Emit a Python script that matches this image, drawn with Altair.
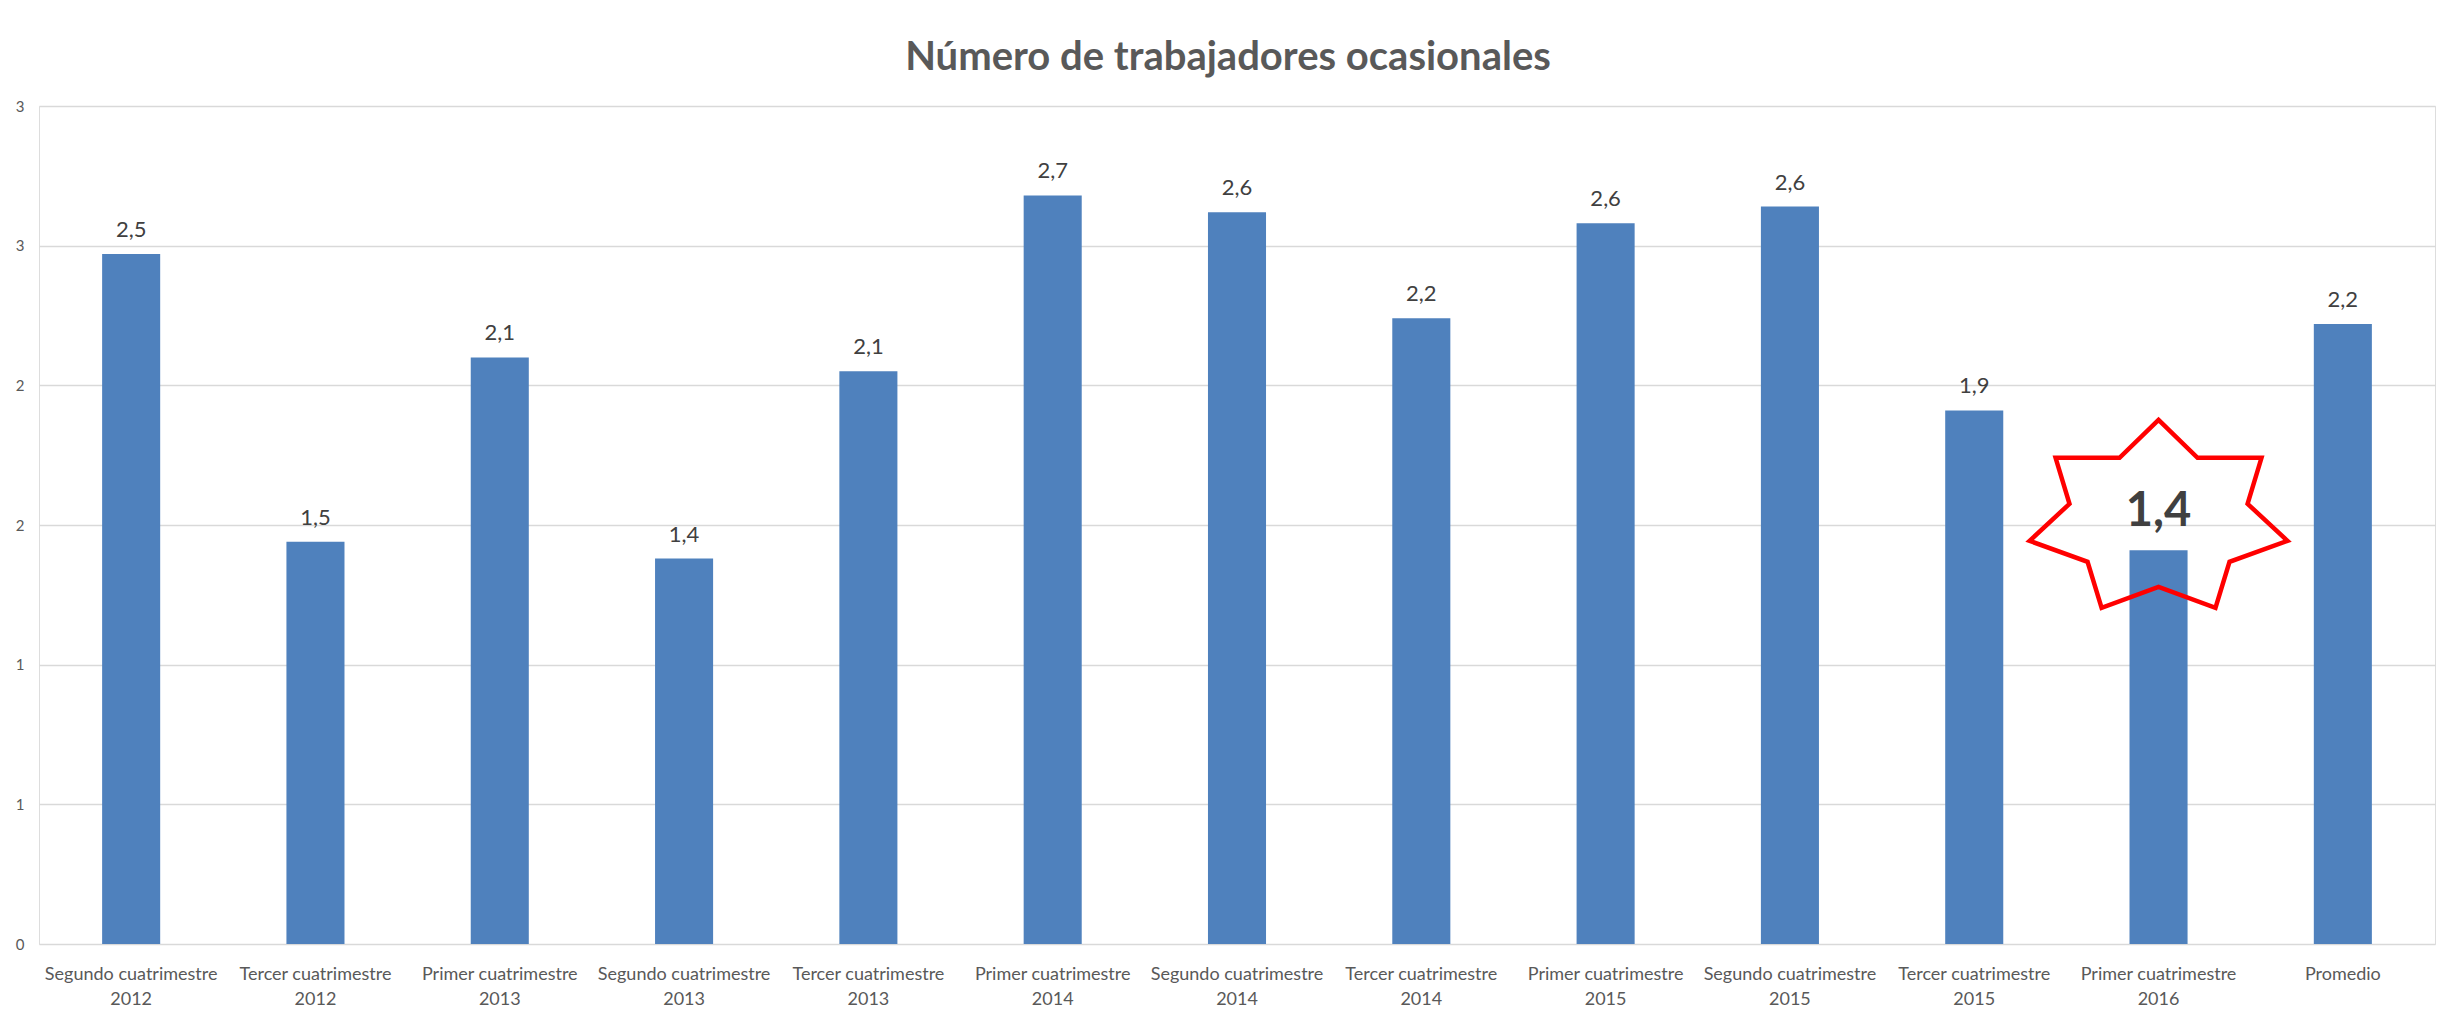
import altair as alt
import pandas as pd

categories = [
    "Segundo cuatrimestre 2012", "Tercer cuatrimestre 2012", "Primer cuatrimestre 2013",
    "Segundo cuatrimestre 2013", "Tercer cuatrimestre 2013", "Primer cuatrimestre 2014",
    "Segundo cuatrimestre 2014", "Tercer cuatrimestre 2014", "Primer cuatrimestre 2015",
    "Segundo cuatrimestre 2015", "Tercer cuatrimestre 2015", "Primer cuatrimestre 2016",
    "Promedio",
]
values = [2.47, 1.44, 2.10, 1.38, 2.05, 2.68, 2.62, 2.24, 2.58, 2.64, 1.91, 1.41, 2.22]
value_labels = ["2,5", "1,5", "2,1", "1,4", "2,1", "2,7", "2,6", "2,2", "2,6", "2,6", "1,9", "1,4", "2,2"]
y_ticks = [0, 0.5, 1, 1.5, 2, 2.5, 3]
highlighted = "Primer cuatrimestre 2016"
star_value = [1.54]

FONT = "Lato"
STAR = ("M0,-0.723 L0.30,-0.431 L0.792,-0.431 L0.685,-0.077 L0.992,0.208 "
        "L0.546,0.369 L0.438,0.723 L0,0.562 L-0.438,0.723 L-0.546,0.369 "
        "L-0.992,0.208 L-0.685,-0.077 L-0.792,-0.431 L-0.30,-0.431 Z")

df = pd.DataFrame({"cat": categories, "val": values, "lbl": value_labels})
df["hl"] = df["cat"] == highlighted
star_df = pd.DataFrame({"cat": [highlighted], "val": star_value})

label_expr = ("indexof(datum.label, ' ') < 0 ? datum.label : "
              "[substring(datum.label, 0, lastindexof(datum.label, ' ')), "
              "substring(datum.label, lastindexof(datum.label, ' ') + 1)]")

x_enc = alt.X(
    "cat:N", sort=categories, title=None,
    scale=alt.Scale(paddingInner=0.685, paddingOuter=0.3425),
    axis=alt.Axis(labelExpr=label_expr, labelAngle=0, labelFontSize=18, labelFont=FONT,
                  labelColor="#595959", labelLineHeight=25, labelPadding=21,
                  labelLimit=400, labelOverlap=False, ticks=False, domain=False, grid=False),
)
y_enc = alt.Y(
    "val:Q", title=None,
    scale=alt.Scale(domain=[0, 3], nice=False, zero=True),
    axis=alt.Axis(values=y_ticks, labelExpr="toString(round(datum.value))", labelFontSize=15,
                  labelFont=FONT, labelColor="#595959", labelPadding=15, ticks=False,
                  domain=False, grid=True, gridColor="#d9d9d9", gridWidth=1.5),
)

base = alt.Chart(df)
bars = base.mark_bar(color="#4f81bd").encode(x=x_enc, y=y_enc)

labels = base.transform_filter("!datum.hl").mark_text(
    baseline="alphabetic", dy=-17, fontSize=22, font=FONT, color="#404040"
).encode(x=alt.X("cat:N", sort=categories), y=alt.Y("val:Q"), text="lbl:N")

star = alt.Chart(star_df).mark_point(
    shape=STAR, size=67600, filled=False, color="#ff0000", strokeWidth=4.5, opacity=1
).encode(x=alt.X("cat:N", sort=categories), y=alt.Y("val:Q"))

big = base.transform_filter("datum.hl").mark_text(
    baseline="alphabetic", dy=-24, fontSize=47, fontWeight="bold", font=FONT, color="#404040"
).encode(x=alt.X("cat:N", sort=categories), y=alt.Y("val:Q"), text="lbl:N")

chart = alt.layer(bars, star, labels, big).properties(
    width=2396,
    height=838,
    autosize=alt.AutoSizeParams(type="none"),
    padding={"left": 31, "top": 98, "right": 8, "bottom": 72},
    title=alt.Title("Número de trabajadores ocasionales", fontSize=40, font=FONT,
                    fontWeight="bold", color="#595959", anchor="middle",
                    baseline="alphabetic", offset=38, dx=-9, dy=49),
).configure_view(stroke=None).configure(background="white")

chart.save("out.html", embed_options={"renderer": "svg", "actions": False})
